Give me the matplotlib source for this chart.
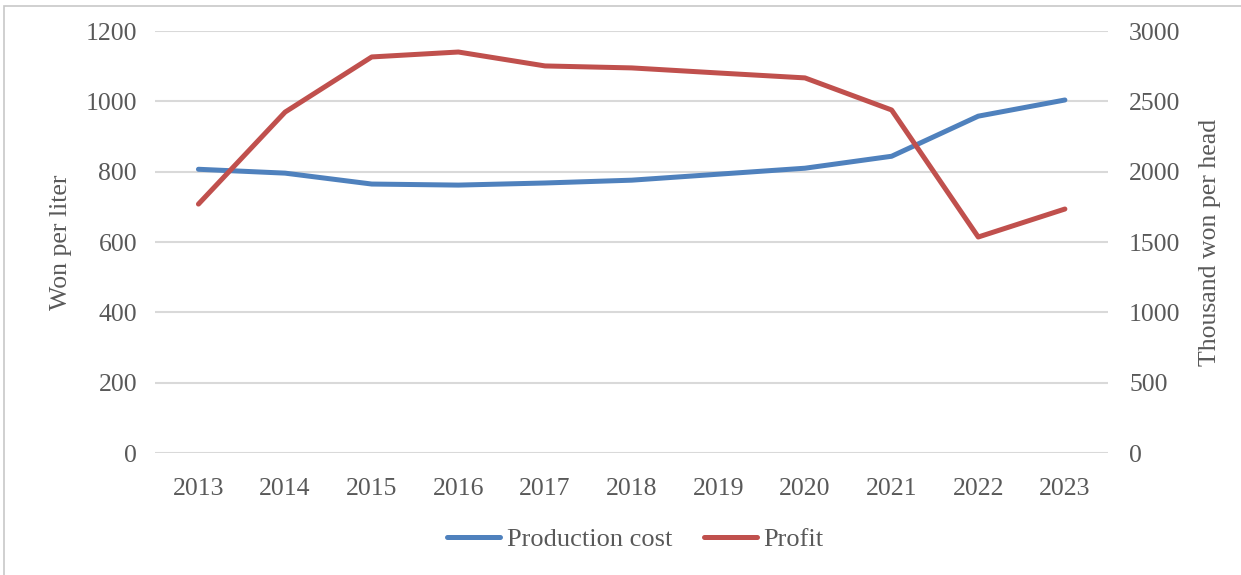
import matplotlib.pyplot as plt
from matplotlib.patches import Rectangle
from matplotlib.lines import Line2D

years = ["2013", "2014", "2015", "2016", "2017", "2018", "2019", "2020", "2021", "2022", "2023"]
production_cost = [807, 796, 765, 762, 768, 776, 793, 810, 844, 958, 1004]
profit = [1770, 2424, 2816, 2851, 2752, 2738, 2702, 2667, 2439, 1536, 1735]

plt.rcParams['font.family'] = ['Liberation Serif', 'DejaVu Serif']
txt = '#595959'
blue = '#4F81BD'
red = '#C0504D'

fig = plt.figure(figsize=(12.41, 5.75), dpi=100)
fig.patches.append(Rectangle((0.003, -0.01), 1.2, 1.0, transform=fig.transFigure,
                             fill=False, edgecolor='#C8C8C8', linewidth=1.2))

ax = fig.add_axes([0.125, 0.212, 0.768, 0.734])
ax2 = ax.twinx()

x = range(len(years))
ax.plot(x, production_cost, color=blue, lw=3.6, solid_capstyle='round', zorder=3)
ax2.plot(x, profit, color=red, lw=3.6, solid_capstyle='round', zorder=3)

ax.set_xlim(-0.5, len(years) - 0.5)
ax.set_ylim(0, 1200)
ax2.set_ylim(0, 3000)
ax.set_yticks(range(0, 1201, 200))
ax2.set_yticks(range(0, 3001, 500))
ax.set_xticks(list(x))
ax.set_xticklabels(years)

ax.grid(axis='y', color='#D9D9D9', lw=1.5)
ax.set_axisbelow(True)
for a in (ax, ax2):
    for s in a.spines.values():
        s.set_visible(False)
    a.tick_params(length=0, labelsize=18.5, labelcolor=txt)
ax.tick_params(axis='y', pad=13)
ax2.tick_params(axis='y', pad=15)
ax.tick_params(axis='x', pad=18)

ax.set_ylabel("Won per liter", fontsize=18.5, color=txt, labelpad=10)
ax2.set_ylabel("Thousand won per head", fontsize=18.5, color=txt, labelpad=13)

handles = [Line2D([], [], color=blue, lw=3.6, solid_capstyle='round'),
           Line2D([], [], color=red, lw=3.6, solid_capstyle='round')]
fig.legend(handles, ["Production cost", "Profit"], loc='center', bbox_to_anchor=(0.512, 0.062),
           ncol=2, frameon=False, fontsize=19, labelcolor=txt, handlelength=2.0,
           handletextpad=0.25, columnspacing=1.2)

fig.savefig("out.png", dpi=100)
